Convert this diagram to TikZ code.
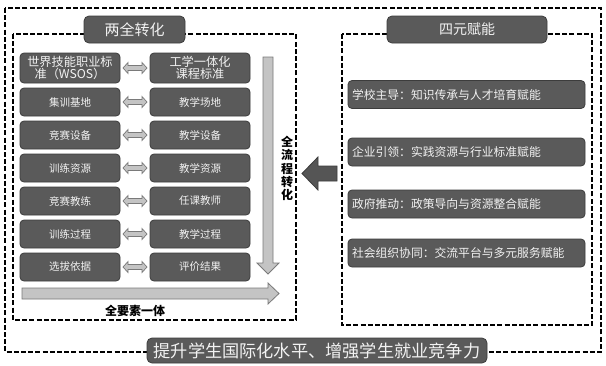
\documentclass[tikz,border=0pt]{standalone}
\usepackage{fontspec}
\setmainfont{Noto Sans CJK SC}
\usetikzlibrary{calc}
\definecolor{boxfill}{HTML}{5A5A5A}
\definecolor{boxline}{HTML}{3C3C3C}
\definecolor{boxtext}{HTML}{F2F2F2}
\definecolor{arrfill}{HTML}{C4C4C4}
\definecolor{arrline}{HTML}{7A7A7A}
\definecolor{bigarr}{HTML}{555555}
\begin{document}
\begin{tikzpicture}[x=1pt,y=-1pt,
  dashbox/.style={draw=black, line width=1.4pt, dash pattern=on 5pt off 2.2pt},
  dbox/.style={draw=boxline, fill=boxfill, rounded corners=4pt, text=boxtext,
    minimum width=100pt, minimum height=28pt, inner sep=1pt, align=center,
    line width=0.8pt, font=\fontsize{10.5}{12}\selectfont},
  rbox/.style={draw=boxline, fill=boxfill, rounded corners=4pt, text=boxtext,
    minimum width=237pt, minimum height=28pt, text width=229pt, inner sep=4pt, align=left,
    line width=0.8pt, font=\fontsize{11.8}{13}\selectfont},
  titlebox/.style={draw=boxline, fill=boxfill, rounded corners=5pt, text=boxtext,
    minimum height=27pt, inner sep=1pt, line width=0.8pt},
  darrow/.style={draw=arrline, fill=arrfill, line width=0.7pt, line join=miter},
  lightarrow/.style={draw=arrline, fill=arrfill, line width=0.8pt, line join=miter},
  lbl/.style={text=black, font=\bfseries\fontsize{12}{13.2}\selectfont, align=center, inner sep=0pt}
]
\useasboundingbox[fill=white] (0,0) rectangle (606,365);

% dashed frames
\draw[dashbox] (5,8) rectangle (601,352);
\draw[dashbox] (13,34) rectangle (296,320);
\draw[dashbox] (342,34) rectangle (592,325);

% titles
\node[titlebox, minimum width=101pt, font=\fontsize{15}{16}\selectfont] (tl) at (134.5,29.5) {两全转化};
\node[titlebox, minimum width=160pt, font=\fontsize{14}{15}\selectfont] (tr) at (467,29.5) {四元赋能};

% left column boxes
\node[dbox, minimum height=30pt, font=\fontsize{12.2}{12.5}\selectfont] (a1) at (70,68) {世界技能职业标\\准（WSOS）};
\node[dbox] (a2) at (70,102) {集训基地};
\node[dbox] (a3) at (70,135) {竞赛设备};
\node[dbox] (a4) at (70,168) {训练资源};
\node[dbox] (a5) at (70,201) {竞赛教练};
\node[dbox] (a6) at (70,234) {训练过程};
\node[dbox] (a7) at (70,267) {选拔依据};

\node[dbox, minimum height=30pt, font=\fontsize{12.2}{12.5}\selectfont] (b1) at (200,68) {工学一体化\\课程标准};
\node[dbox] (b2) at (200,102) {教学场地};
\node[dbox] (b3) at (200,135) {教学设备};
\node[dbox] (b4) at (200,168) {教学资源};
\node[dbox] (b5) at (200,201) {任课教师};
\node[dbox] (b6) at (200,234) {教学过程};
\node[dbox] (b7) at (200,267) {评价结果};

% double arrows between the pairs
\foreach \i in {1,...,7}{
  \coordinate (m\i) at ($(a\i.east)!0.5!(b\i.west)$);
  \draw[darrow] (m\i) ++(-12,0) -- ++(5,-5.5) -- ++(0,3) -- ++(14,0) -- ++(0,-3)
    -- ++(5,5.5) -- ++(-5,5.5) -- ++(0,-3) -- ++(-14,0) -- ++(0,3) -- cycle;
}

% vertical arrow (full process)
\draw[lightarrow] (263,57) -- (273,57) -- (273,263) -- (279,263) -- (268,274)
  -- (257,263) -- (263,263) -- cycle;
\node[lbl] (vt) at (287,168.5) {全\\流\\程\\转\\化};

% horizontal arrow (all elements)
\draw[lightarrow] (22,288) -- (268,288) -- (268,283) -- (279,293.5) -- (268,304)
  -- (268,299) -- (22,299) -- cycle;
\node[lbl] (ht) at (135,311) {全要素一体};

% big arrow from right to left
\draw[draw=boxline, fill=bigarr, line width=0.8pt, line join=miter]
  (302,173.5) -- (318,157) -- (318,166) -- (337,166) -- (337,181) -- (318,181)
  -- (318,190) -- cycle;

% right column boxes
\node[rbox] (c1) at (466.5,94.5) {学校主导：知识传承与人才培育赋能};
\node[rbox] (c2) at (466.5,152) {企业引领：实践资源与行业标准赋能};
\node[rbox] (c3) at (466.5,204) {政府推动：政策导向与资源整合赋能};
\node[rbox] (c4) at (466.5,253) {社会组织协同：交流平台与多元服务赋能};

% bottom banner
\node[titlebox, minimum width=340pt, minimum height=25pt, rounded corners=5pt,
  font=\fontsize{17.2}{18}\selectfont] (goal) at (317,350.5) {提升学生国际化水平、增强学生就业竞争力};
\end{tikzpicture}
\end{document}
